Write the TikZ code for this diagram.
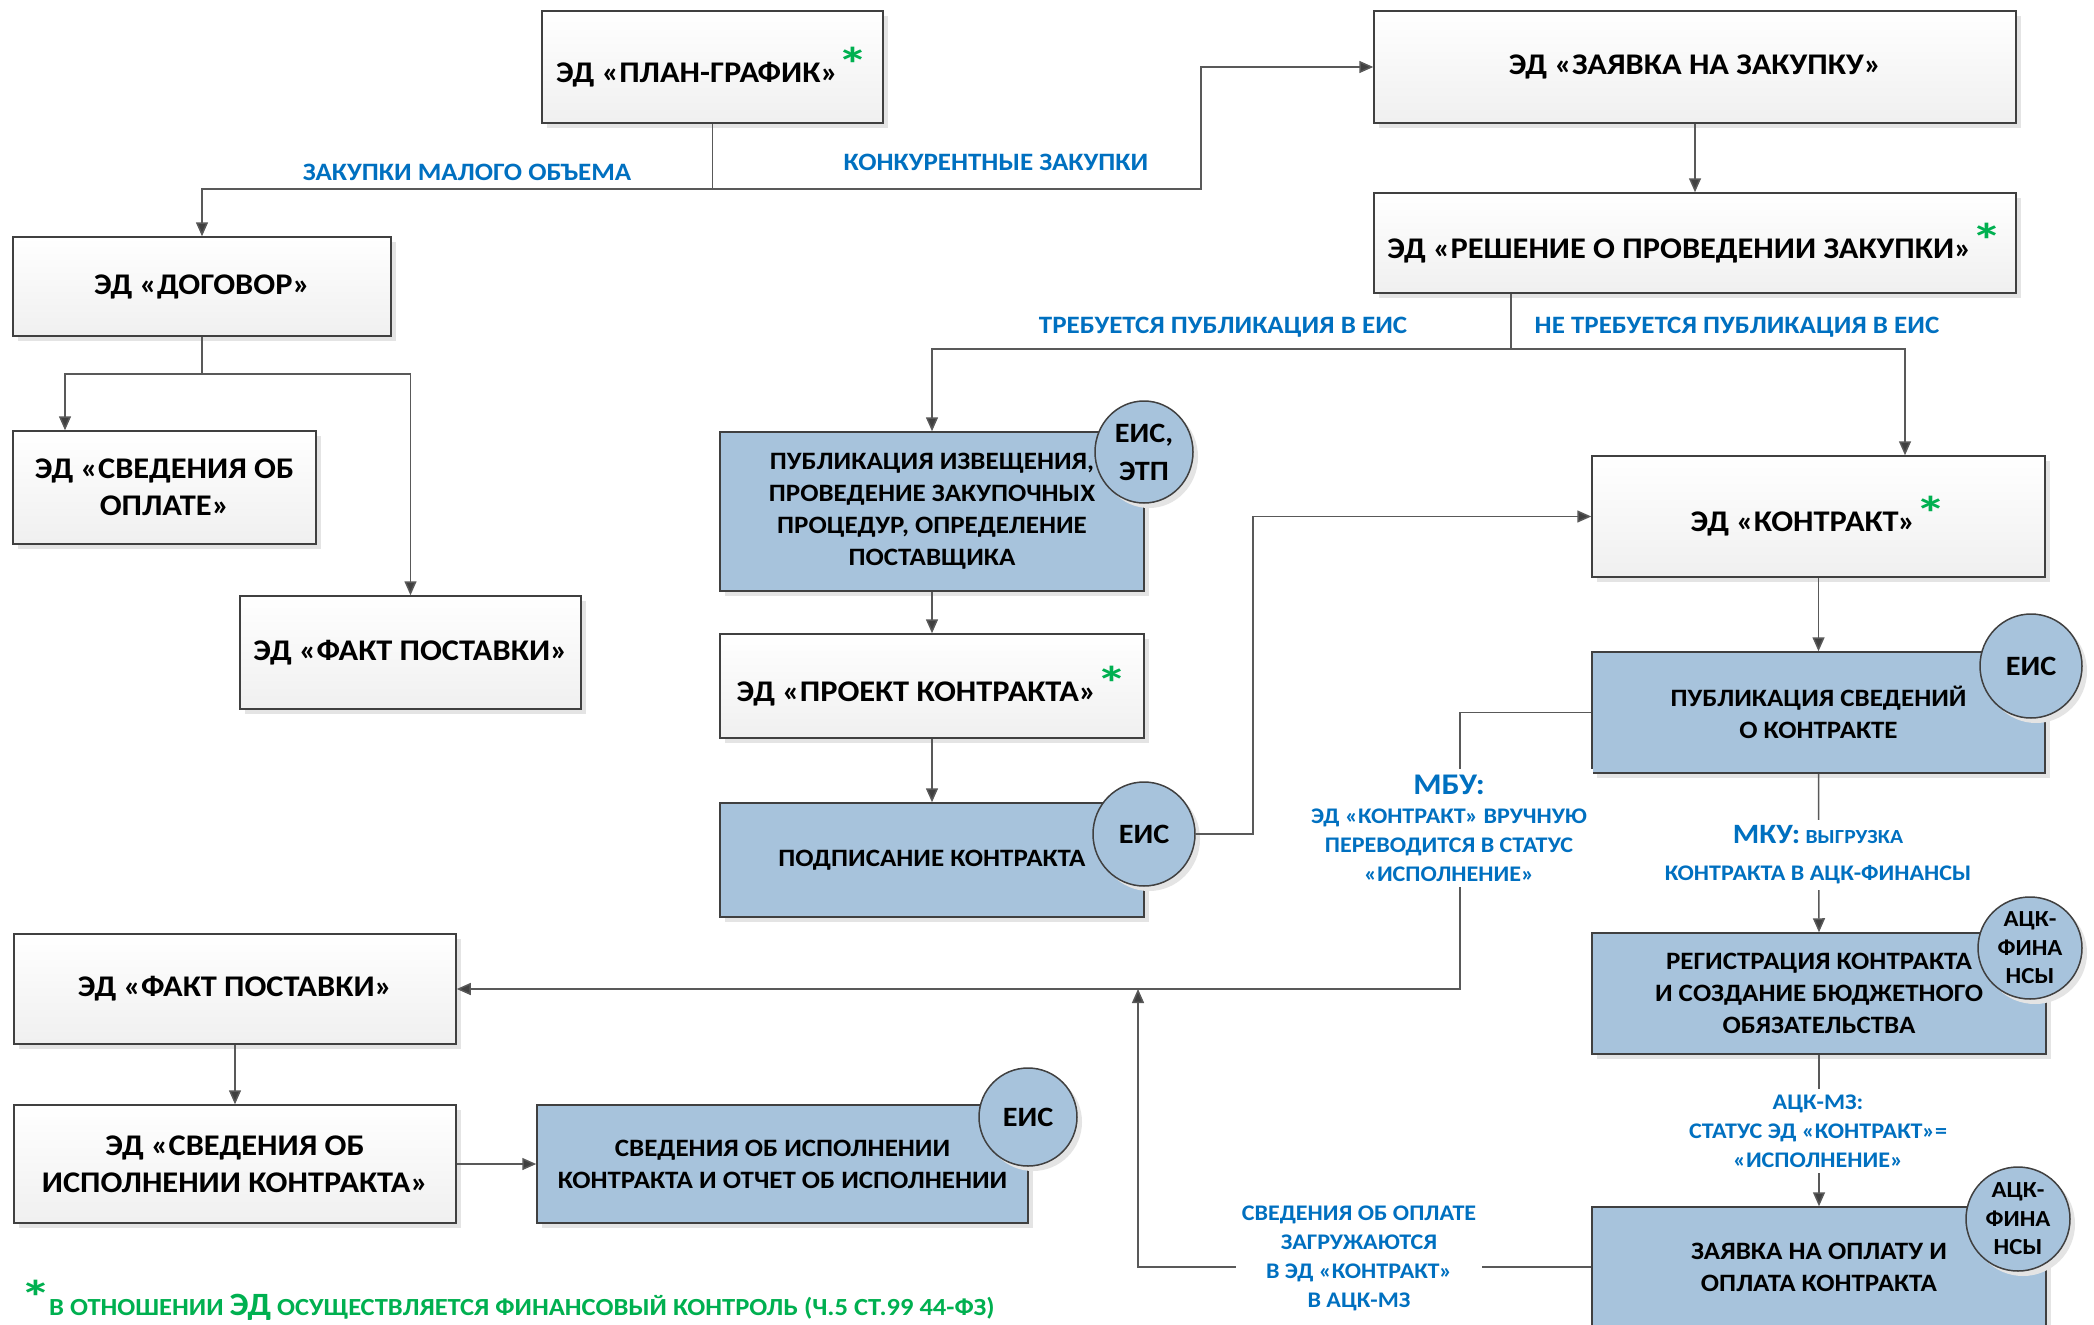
\documentclass[tikz,border=0pt]{standalone}
\usepackage{fontspec}
\setmainfont{Carlito}[FakeStretch=1.08]
\usetikzlibrary{arrows.meta,shapes.geometric,shadows}
\definecolor{boxblue}{RGB}{167,195,220}
\definecolor{bordergray}{RGB}{64,64,64}
\definecolor{linegray}{RGB}{89,89,89}
\definecolor{lblue}{RGB}{0,112,192}
\definecolor{edgreen}{RGB}{0,176,80}
\definecolor{shadowgray}{RGB}{228,228,228}
\newcommand\gast{\textcolor{edgreen}{\raisebox{1pt}{\scalebox{1.2}[1]{\fontsize{48}{48}\selectfont *}}}}
\begin{document}
\begin{tikzpicture}[x=1pt,y=-1pt,
  base/.style={draw=bordergray, line width=1.5pt, inner sep=0pt, align=center, text=black,
    drop shadow={shadow xshift=5pt, shadow yshift=-5pt, fill=shadowgray, opacity=1}},
  wbox/.style={base, rectangle, top color=white, bottom color=black!6, font=\fontsize{30}{37}\selectfont\bfseries},
  bbox/.style={base, rectangle, fill=boxblue, font=\fontsize{25}{32}\selectfont\bfseries},
  sys/.style={base, ellipse, fill=boxblue, inner sep=-14pt, font=\fontsize{28}{38}\selectfont\bfseries},
  acksys/.style={sys, font=\fontsize{23}{28.5}\selectfont\bfseries},
  sz/.style 2 args={minimum width=#1pt, minimum height=#2pt},
  conn/.style={draw=linegray, line width=1.5pt},
  arr/.style={conn, -{Triangle[length=14pt,width=12pt,fill=bordergray]}},
  lbl/.style={text=lblue, font=\fontsize{25}{29}\selectfont\bfseries, align=center, inner sep=2pt},
  lblw/.style={lbl, fill=white, inner sep=6pt, font=\fontsize{22.3}{29}\selectfont\bfseries},
]
\useasboundingbox (0,0) rectangle (2094,1325);
\fill[white] (0,0) rectangle (2094,1325);

% boxes
\node[wbox, sz={341}{112}] (plan) at (712.5,67) {ЭД «ПЛАН-ГРАФИК»\gast};
\node[wbox, sz={642}{112}] (zayavka) at (1695,67) {ЭД «ЗАЯВКА НА ЗАКУПКУ»};
\node[wbox, sz={642}{100}] (reshenie) at (1695,243) {ЭД «РЕШЕНИЕ О ПРОВЕДЕНИИ ЗАКУПКИ»\gast};
\node[wbox, sz={378}{99}] (dogovor) at (202,286.5) {ЭД «ДОГОВОР»};
\node[wbox, sz={303}{113}] (oplata) at (164.5,487.5) {ЭД «СВЕДЕНИЯ ОБ\\ОПЛАТЕ»};
\node[wbox, sz={341}{113}] (fakt1) at (410.5,652.5) {ЭД «ФАКТ ПОСТАВКИ»};
\node[bbox, sz={424}{159}] (pubizv) at (932,511.5) {ПУБЛИКАЦИЯ ИЗВЕЩЕНИЯ,\\ПРОВЕДЕНИЕ ЗАКУПОЧНЫХ\\ПРОЦЕДУР, ОПРЕДЕЛЕНИЕ\\ПОСТАВЩИКА};
\node[wbox, sz={424}{104}] (proekt) at (932,686) {ЭД «ПРОЕКТ КОНТРАКТА»\gast};
\node[bbox, sz={424}{114}] (podp) at (932,860) {ПОДПИСАНИЕ КОНТРАКТА};
\node[wbox, sz={453}{121}] (kontrakt) at (1818.5,516.5) {ЭД «КОНТРАКТ»\gast};
\node[bbox, sz={453}{121}] (pubsved) at (1818.5,712.5) {ПУБЛИКАЦИЯ СВЕДЕНИЙ\\О КОНТРАКТЕ};
\node[bbox, sz={454}{121}] (reg) at (1819,993.5) {РЕГИСТРАЦИЯ КОНТРАКТА\\И СОЗДАНИЕ БЮДЖЕТНОГО\\ОБЯЗАТЕЛЬСТВА};
\node[bbox, sz={454}{120}] (oplatu) at (1819,1267) {ЗАЯВКА НА ОПЛАТУ И\\ОПЛАТА КОНТРАКТА};
\node[wbox, sz={442}{110}] (fakt2) at (235,989) {ЭД «ФАКТ ПОСТАВКИ»};
\node[wbox, sz={442}{118}] (ispk) at (235,1164) {ЭД «СВЕДЕНИЯ ОБ\\ИСПОЛНЕНИИ КОНТРАКТА»};
\node[bbox, sz={491}{118}] (ispb) at (782.5,1164) {СВЕДЕНИЯ ОБ ИСПОЛНЕНИИ\\КОНТРАКТА И ОТЧЕТ ОБ ИСПОЛНЕНИИ};

% system ellipses
\node[sys, sz={98}{102}] (e1) at (1144,452) {ЕИС,\\ЭТП};
\node[sys, sz={102}{104}] (e2) at (1144,834) {ЕИС};
\node[sys, sz={102}{104}] (e3) at (2031,666) {ЕИС};
\node[acksys, sz={104}{102}] (e4) at (2030,948) {АЦК-\\ФИНА\\НСЫ};
\node[acksys, sz={104}{104}] (e5) at (2018,1219) {АЦК-\\ФИНА\\НСЫ};
\node[sys, sz={98}{98}] (e6) at (1028,1117) {ЕИС};

% connectors
\coordinate (pj) at (712.5,189);
\coordinate (kz) at (1201,189);
\draw[conn] (plan.south) -- (pj);
\draw[arr] (pj) -| (dogovor.north);
\draw[arr] (pj) -- (kz) |- (zayavka.west);
\draw[arr] (zayavka.south) -- (reshenie.north);
\coordinate (rj) at (1511,349);
\coordinate (kx) at (1905,349);
\draw[conn] (rj |- reshenie.south) -- (rj);
\draw[arr] (rj) -| (pubizv.north);
\draw[arr] (rj) -- (kx) -- (kx |- kontrakt.north);
\coordinate (dj) at (202,374);
\coordinate (dl) at (65,374);
\draw[conn] (dogovor.south) -- (dj);
\draw[arr] (dj) -- (dl) -- (dl |- oplata.north);
\draw[arr] (dj) -| (fakt1.north);
\draw[arr] (pubizv.south) -- (proekt.north);
\draw[arr] (proekt.south) -- (podp.north);
\coordinate (px) at (1253,834);
\draw[arr] (e2.east) -- (px) |- (kontrakt.west);
\draw[arr] (kontrakt.south) -- (pubsved.north);
\coordinate (mx) at (1460,989);
\draw[arr] (pubsved.west) -| (mx) -- (fakt2.east);
\draw[arr] (pubsved.south) -- (reg.north);
\draw[arr] (reg.south) -- (oplatu.north);
\coordinate (oj) at (1138,989);
\draw[arr] (oplatu.west) -| (oj);
\draw[arr] (fakt2.south) -- (ispk.north);
\draw[arr] (ispk.east) -- (ispb.west);

% labels
\node[lbl] (lzmo) at (467,172) {ЗАКУПКИ МАЛОГО ОБЪЕМА};
\node[lbl] (lkonk) at (996,162) {КОНКУРЕНТНЫЕ ЗАКУПКИ};
\node[lbl] (ltreb) at (1223,327) {ТРЕБУЕТСЯ ПУБЛИКАЦИЯ В ЕИС};
\node[lbl] (lnetreb) at (1737,327) {НЕ ТРЕБУЕТСЯ ПУБЛИКАЦИЯ В ЕИС};
\node[lblw] (lmbu) at (1449,828) {{\fontsize{30}{30}\selectfont МБУ:}\\ЭД «КОНТРАКТ» ВРУЧНУЮ\\ПЕРЕВОДИТСЯ В СТАТУС\\«ИСПОЛНЕНИЕ»};
\node[lblw] (lmku) at (1818,855) {{\fontsize{28}{28}\selectfont МКУ:} {\fontsize{20}{20}\selectfont ВЫГРУЗКА}\\[8pt]КОНТРАКТА В АЦК-ФИНАНСЫ};
\node[lblw] (lacm) at (1818,1131) {АЦК-МЗ:\\СТАТУС ЭД «КОНТРАКТ»=\\«ИСПОЛНЕНИЕ»};
\node[lblw] (lopl) at (1359,1258.5) {СВЕДЕНИЯ ОБ ОПЛАТЕ\\ЗАГРУЖАЮТСЯ\\В ЭД «КОНТРАКТ»\\В АЦК-МЗ};

% footnote
\node[anchor=north, inner sep=0pt, text=edgreen, font=\fontsize{48}{48}\selectfont\bfseries] (fast) at (36,1280) {\scalebox{1.2}[1]{*}};
\node[anchor=base west, inner sep=0pt, text=edgreen, font=\fontsize{24.6}{25}\selectfont\bfseries] (foot) at (49,1315) {В ОТНОШЕНИИ {\fontsize{32.5}{33}\selectfont ЭД} ОСУЩЕСТВЛЯЕТСЯ ФИНАНСОВЫЙ КОНТРОЛЬ (Ч.5 СТ.99 44-ФЗ)};
\end{tikzpicture}
\end{document}
